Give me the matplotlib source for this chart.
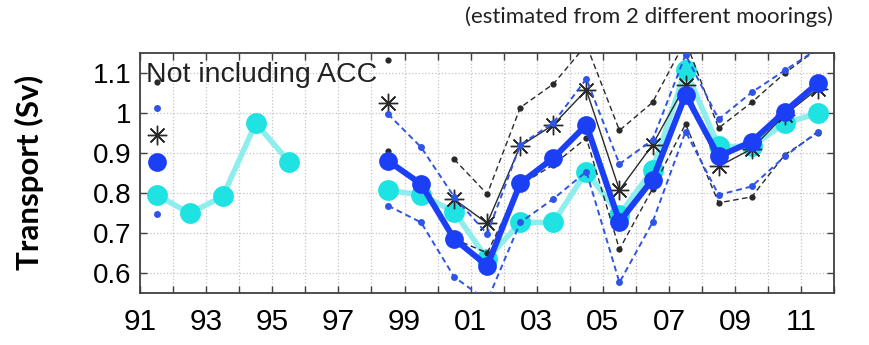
import numpy as np
import matplotlib
matplotlib.use('Agg')
import matplotlib.pyplot as plt

nan = np.nan

# mid-year positions, 1991.5 ... 2011.5 (axis in 2-digit years)
years = np.arange(91, 112) + 0.5

# light cyan series
cyan_vals = [0.795, 0.749, 0.791, 0.974, 0.878, nan, nan, 0.806, 0.795, 0.753, 0.635,
             0.726, 0.726, 0.853, 0.745, 0.857, 1.107, 0.916, 0.916, 0.974, 0.999]

# blue series and its dashed range
blue_mean = [0.878, nan, nan, nan, nan, nan, nan, 0.880, 0.822, 0.685, 0.618,
             0.824, 0.887, 0.970, 0.728, 0.833, 1.045, 0.891, 0.928, 1.003, 1.074]
blue_hi = [1.012, nan, nan, nan, nan, nan, nan, 0.997, 0.914, 0.790, 0.697,
           0.920, 0.975, 1.085, 0.872, 0.932, 1.145, 0.984, 1.051, 1.106, 1.160]
blue_lo = [0.748, nan, nan, nan, nan, nan, nan, 0.768, 0.726, 0.590, 0.530,
           0.726, 0.785, 0.853, 0.576, 0.726, 0.953, 0.795, 0.816, 0.891, 0.953]

# black (asterisk) series and its dashed range
black_mean = [0.945, nan, nan, nan, nan, nan, nan, 1.024, nan, 0.784, 0.724,
              0.917, 0.970, 1.057, 0.807, 0.920, 1.070, 0.866, 0.910, 0.995, 1.060]
black_hi = [1.077, nan, nan, nan, nan, nan, nan, 1.131, nan, 0.884, 0.797,
            1.013, 1.072, 1.170, 0.956, 1.026, 1.180, 0.962, 1.026, 1.099, 1.160]
black_lo = [nan, nan, nan, nan, nan, nan, nan, 0.905, nan, 0.685, 0.650,
            0.820, 0.870, 0.937, 0.659, 0.810, 0.972, 0.775, 0.790, 0.895, 0.950]

y_ticks = [0.6, 0.7, 0.8, 0.9, 1.0, 1.1]
y_ticklabels = ['0.6', '0.7', '0.8', '0.9', '1', '1.1']

CYAN = '#1fe2e2'
CYAN_LINE = '#8eeeee'
BLUE = '#1a3ff4'
BLUE_DASH = '#2f55e6'
DARK = '#2a2a2a'


def main():
    fig = plt.figure(figsize=(8.7, 3.45), dpi=100)
    ax = fig.add_axes([0.161, 0.151, 0.798, 0.696])

    # cyan line (lightened), then markers
    ax.plot(years, cyan_vals, '-', color=CYAN_LINE, lw=4.0, zorder=2)
    ax.plot(years, cyan_vals, 'o', color=CYAN, ms=15, mec='none', zorder=2.1)

    # black series
    ax.plot(years, black_mean, '-', color=DARK, lw=1.0, marker=(8, 2, 0), ms=14,
            mew=1.0, mec=DARK, zorder=3)
    for arr in (black_hi, black_lo):
        ax.plot(years, arr, '--', color=DARK, lw=1.0, dashes=(4, 2.5),
                marker='o', ms=4.5, mec='none', zorder=3.2)

    # blue series
    ax.plot(years, blue_mean, '-', color=BLUE, lw=4.3, marker='o', ms=13.5,
            mec='none', zorder=4)
    for arr in (blue_hi, blue_lo):
        ax.plot(years, arr, '--', color=BLUE_DASH, lw=1.4, dashes=(3, 2),
                marker='o', ms=5, mec='none', zorder=5)

    ax.set_xlim(91, 112)
    ax.set_ylim(0.55, 1.15)
    ax.set_xticks(np.arange(91, 113))
    ax.set_xticklabels(['%02d' % (t % 100) if t % 2 == 1 else '' for t in range(91, 113)])
    ax.set_yticks(y_ticks)
    ax.set_yticklabels(y_ticklabels)

    ax.tick_params(direction='in', length=5, width=1.0, color='#404040',
                   top=True, right=True, labelsize=20, pad=6)
    for lab in ax.get_xticklabels() + ax.get_yticklabels():
        lab.set_family('Liberation Sans')
    ax.tick_params(axis='x', labelsize=21.5, pad=11)
    for sp in ax.spines.values():
        sp.set_color('#404040')
        sp.set_linewidth(1.3)

    ax.grid(True, linestyle=':', color='#c4c4c4', lw=0.9)
    ax.set_axisbelow(True)

    ax.text(0.009, 0.88, 'Not including ACC', transform=ax.transAxes,
            fontsize=20.5, family='Liberation Sans', color='#222222',
            ha='left', va='baseline', zorder=6)

    ax.set_ylabel('Transport (Sv)', fontsize=22.5, fontweight='bold', family='Lato')
    ax.yaxis.set_label_coords(-0.138, 0.5)

    fig.text(0.957, 0.951, '(estimated from 2 different moorings)', fontsize=16,
             family='Lato', color='#222222', ha='right', va='center')

    fig.savefig('out.png', dpi=100)


if __name__ == '__main__':
    main()
